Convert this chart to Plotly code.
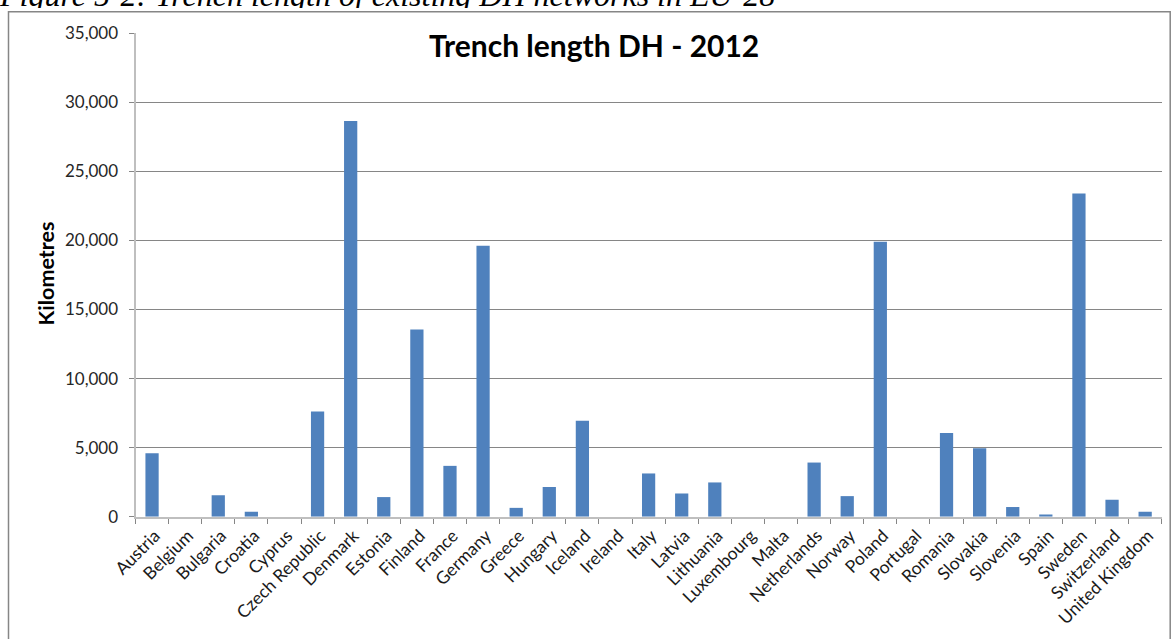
import plotly.graph_objects as go

countries = ["Austria", "Belgium", "Bulgaria", "Croatia", "Cyprus", "Czech Republic", "Denmark",
             "Estonia", "Finland", "France", "Germany", "Greece", "Hungary", "Iceland", "Ireland",
             "Italy", "Latvia", "Lithuania", "Luxembourg", "Malta", "Netherlands", "Norway", "Poland",
             "Portugal", "Romania", "Slovakia", "Slovenia", "Spain", "Sweden", "Switzerland",
             "United Kingdom"]
trench_km = [4600, 0, 1560, 350, 0, 7620, 28650, 1420, 13560, 3680, 19620, 640, 2150, 6950, 0,
             3130, 1680, 2480, 0, 0, 3920, 1490, 19900, 0, 6050, 4960, 700, 160, 23400, 1230,
             360]

title_text = "Trench length DH - 2012"
y_title = "Kilometres"
caption = "Figure 5-2: Trench length of existing DH networks in EU-28"

W, H = 1171, 639
FONT = "Lato, Carlito, Calibri, sans-serif"

def px(x):
    return x / W

def py(y):
    return (H - y) / H

fig = go.Figure()
fig.add_trace(go.Bar(
    x=countries, y=trench_km,
    marker=dict(color="#4F81BD", line=dict(width=0)),
    hoverinfo="x+y",
))
# caption strip (clipped at top, as in the reference)
fig.add_trace(go.Scatter(
    x=[0], y=[-2], mode="text", text=[caption], textposition="middle right",
    textfont=dict(family="Liberation Serif, Times New Roman, serif", size=32,
                  color="black", style="italic"),
    xaxis="x2", yaxis="y2", cliponaxis=True, hoverinfo="skip", showlegend=False,
))

fig.update_layout(
    width=W, height=H,
    margin=dict(l=0, r=0, t=0, b=0, pad=0, autoexpand=False),
    paper_bgcolor="white", plot_bgcolor="white",
    bargap=0.6,
    showlegend=False,
    font=dict(family=FONT, size=17, color="#262626"),
    xaxis=dict(
        domain=[px(135.5), px(1161.7)],
        type="category", tickangle=-45, tickson="boundaries",
        ticks="outside", ticklen=5, tickcolor="#868686",
        showline=True, linecolor="#BFBFBF", linewidth=2,
        showgrid=False, tickfont=dict(size=17.5, color="#1a1a1a"),
        ticklabelshift=3, automargin=False,
    ),
    yaxis=dict(
        domain=[py(516.7), py(33.2)],
        range=[0, 35000], dtick=5000, tickformat=",",
        ticks="outside", ticklen=5, tickcolor="#868686",
        showgrid=True, gridcolor="#868686", gridwidth=1,
        showline=True, linecolor="#BFBFBF", linewidth=2,
        zeroline=False, ticklabelstandoff=7, tickfont=dict(size=17), automargin=False,
    ),
    xaxis2=dict(domain=[0, 1], range=[0, W], visible=False, fixedrange=True, anchor="y2"),
    yaxis2=dict(domain=[py(8), 1], range=[8, 0], visible=False, fixedrange=True,
                anchor="x2"),
)

fig.add_annotation(
    text="<b>" + title_text + "</b>", xref="paper", yref="paper",
    x=px(594), y=py(45), xanchor="center", yanchor="middle", showarrow=False,
    font=dict(family=FONT, size=30, color="black"),
)
fig.add_annotation(
    text="<b>" + y_title + "</b>", xref="paper", yref="paper", textangle=-90,
    x=px(45.5), y=py(274), xanchor="center", yanchor="middle", showarrow=False,
    font=dict(family=FONT, size=21.5, color="black"),
)
fig.add_shape(
    type="rect", xref="paper", yref="paper",
    x0=px(8.5), x1=px(1170.2), y0=py(660), y1=py(11.8),
    line=dict(color="#868686", width=1.5), fillcolor="rgba(0,0,0,0)", layer="below",
)

fig.write_html("out.html", config={"displayModeBar": False},
               post_script="document.body.style.margin='0px';")
